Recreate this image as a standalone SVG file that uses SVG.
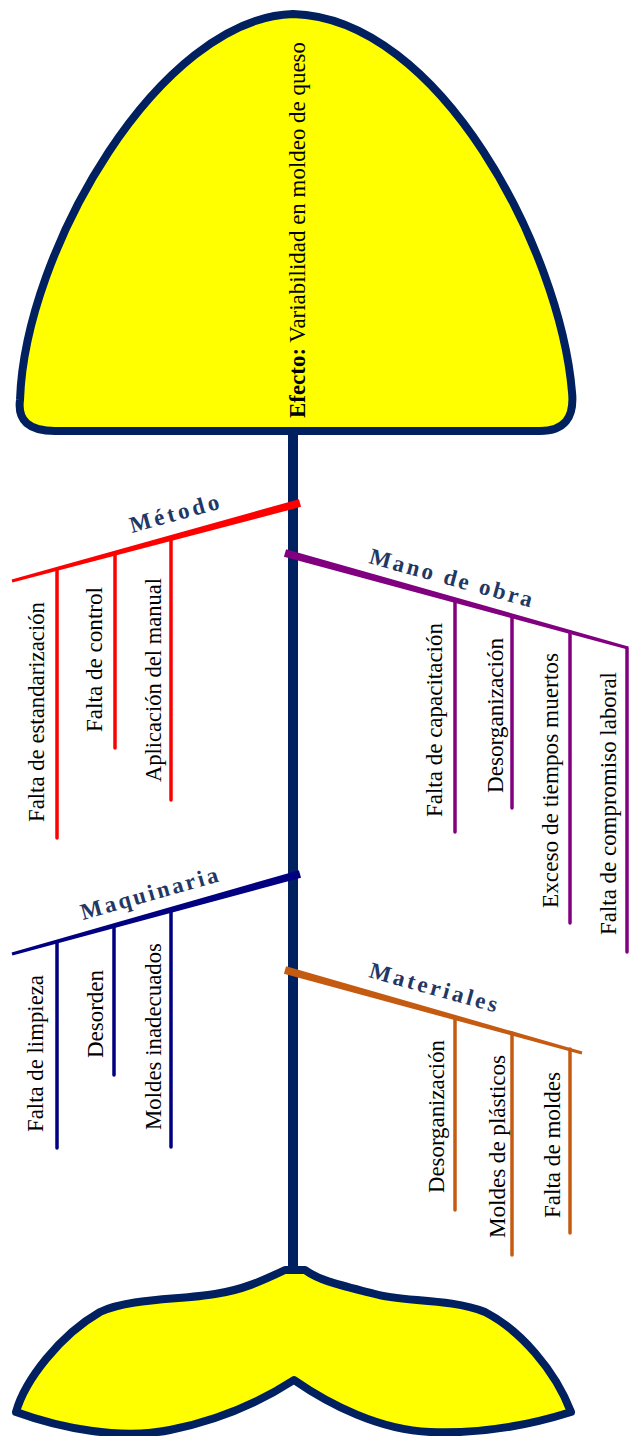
<svg xmlns="http://www.w3.org/2000/svg" width="630" height="1436" viewBox="0 0 630 1436">
<style>
.fish{fill:#FFFF00;stroke:#002060;stroke-width:8;stroke-linejoin:round}
.lbl{font-family:"Liberation Serif","Times New Roman",serif;font-size:23px;fill:#000}
.cat{font-family:"Liberation Serif","Times New Roman",serif;font-size:23px;font-weight:bold;fill:#1F3864}
.sub{stroke-width:3.5;stroke-linecap:round;fill:none}
</style>
<rect width="630" height="1436" fill="#fff"/>
<g id="head">
<path class="fish" d="M 20,400 C 25,250 160,18 293,14 C 440,18 560,250 572,392 Q 576,431 540,431 L 55,431 Q 16,431 20,400 Z"/>
<text class="lbl" transform="translate(305,418) rotate(-90)" textLength="376" lengthAdjust="spacingAndGlyphs"><tspan font-weight="bold">Efecto:</tspan> Variabilidad en moldeo de queso</text>
</g>
<g id="tail">
<path class="fish" d="M 285,1270 C 262,1281 242,1290 215,1294 C 180,1300 130,1298 100,1312 C 60,1335 25,1380 16,1412 C 60,1428 120,1440 170,1430 C 220,1420 260,1402 294,1380 C 330,1405 380,1430 430,1432 C 480,1434 530,1425 571,1412 C 555,1370 520,1330 485,1312 C 450,1298 400,1302 375,1294 C 340,1285 320,1281 305,1270 Z"/>
</g>
<g id="connectors">
<line x1="293" y1="431" x2="293" y2="1272" stroke="#002060" stroke-width="10"/>
<polygon fill="#FF0000" points="298.95,499.14 11.61,579.55 12.39,582.45 301.05,506.86"/>
<polygon fill="#800080" points="286.07,549.15 628.4,646.55 627.6,649.45 283.93,556.85"/>
<polygon fill="#000080" points="298.93,870.15 11.6,952.55 12.4,955.45 301.07,877.85"/>
<polygon fill="#C55A11" points="286.08,966.15 582.4,1051.56 581.6,1054.44 283.92,973.85"/>
</g>
<g id="metodo">
<text class="cat" transform="translate(132,533) rotate(-15.5)" textLength="92" lengthAdjust="spacing">Método</text>
<g stroke="#FF0000" class="sub">
<line x1="57" y1="569" x2="57" y2="838"/>
<line x1="115" y1="553" x2="115" y2="748"/>
<line x1="171" y1="538" x2="171" y2="800"/>
</g>
<text class="lbl" transform="translate(44,822) rotate(-90)" textLength="220" lengthAdjust="spacingAndGlyphs">Falta de estandarización</text>
<text class="lbl" transform="translate(102,732) rotate(-90)" textLength="145" lengthAdjust="spacingAndGlyphs">Falta de control</text>
<text class="lbl" transform="translate(161,782) rotate(-90)" textLength="204" lengthAdjust="spacingAndGlyphs">Aplicación del manual</text>
</g>
<g id="mano-de-obra">
<text class="cat" transform="translate(368,563) rotate(15.3)" textLength="168" lengthAdjust="spacing">Mano de obra</text>
<g stroke="#800080" class="sub">
<line x1="455" y1="600" x2="455" y2="832"/>
<line x1="512" y1="616" x2="512" y2="808"/>
<line x1="570" y1="632" x2="570" y2="923"/>
<line x1="627" y1="648" x2="627" y2="952"/>
</g>
<text class="lbl" transform="translate(442,817) rotate(-90)" textLength="194" lengthAdjust="spacingAndGlyphs">Falta de capacitación</text>
<text class="lbl" transform="translate(503,793) rotate(-90)" textLength="155" lengthAdjust="spacingAndGlyphs">Desorganización</text>
<text class="lbl" transform="translate(558,908) rotate(-90)" textLength="255" lengthAdjust="spacingAndGlyphs">Exceso de tiempos muertos</text>
<text class="lbl" transform="translate(616,935) rotate(-90)" textLength="263" lengthAdjust="spacingAndGlyphs">Falta de compromiso laboral</text>
</g>
<g id="maquinaria">
<text class="cat" transform="translate(83,920) rotate(-15.8)" textLength="142" lengthAdjust="spacing">Maquinaria</text>
<g stroke="#000080" class="sub">
<line x1="57" y1="942" x2="57" y2="1148"/>
<line x1="114" y1="926" x2="114" y2="1075"/>
<line x1="171" y1="911" x2="171" y2="1147"/>
</g>
<text class="lbl" transform="translate(43,1132) rotate(-90)" textLength="157" lengthAdjust="spacingAndGlyphs">Falta de limpieza</text>
<text class="lbl" transform="translate(103,1058) rotate(-90)" textLength="88" lengthAdjust="spacingAndGlyphs">Desorden</text>
<text class="lbl" transform="translate(161,1130) rotate(-90)" textLength="187" lengthAdjust="spacingAndGlyphs">Moldes inadecuados</text>
</g>
<g id="materiales">
<text class="cat" transform="translate(368,977) rotate(15.6)" textLength="132" lengthAdjust="spacing">Materiales</text>
<g stroke="#C55A11" class="sub">
<line x1="455" y1="1017" x2="455" y2="1210"/>
<line x1="512" y1="1033" x2="512" y2="1255"/>
<line x1="570" y1="1049" x2="570" y2="1233"/>
</g>
<text class="lbl" transform="translate(444,1193) rotate(-90)" textLength="153" lengthAdjust="spacingAndGlyphs">Desorganización</text>
<text class="lbl" transform="translate(505,1238) rotate(-90)" textLength="183" lengthAdjust="spacingAndGlyphs">Moldes de plásticos</text>
<text class="lbl" transform="translate(560,1218) rotate(-90)" textLength="146" lengthAdjust="spacingAndGlyphs">Falta de moldes</text>
</g>
</svg>
